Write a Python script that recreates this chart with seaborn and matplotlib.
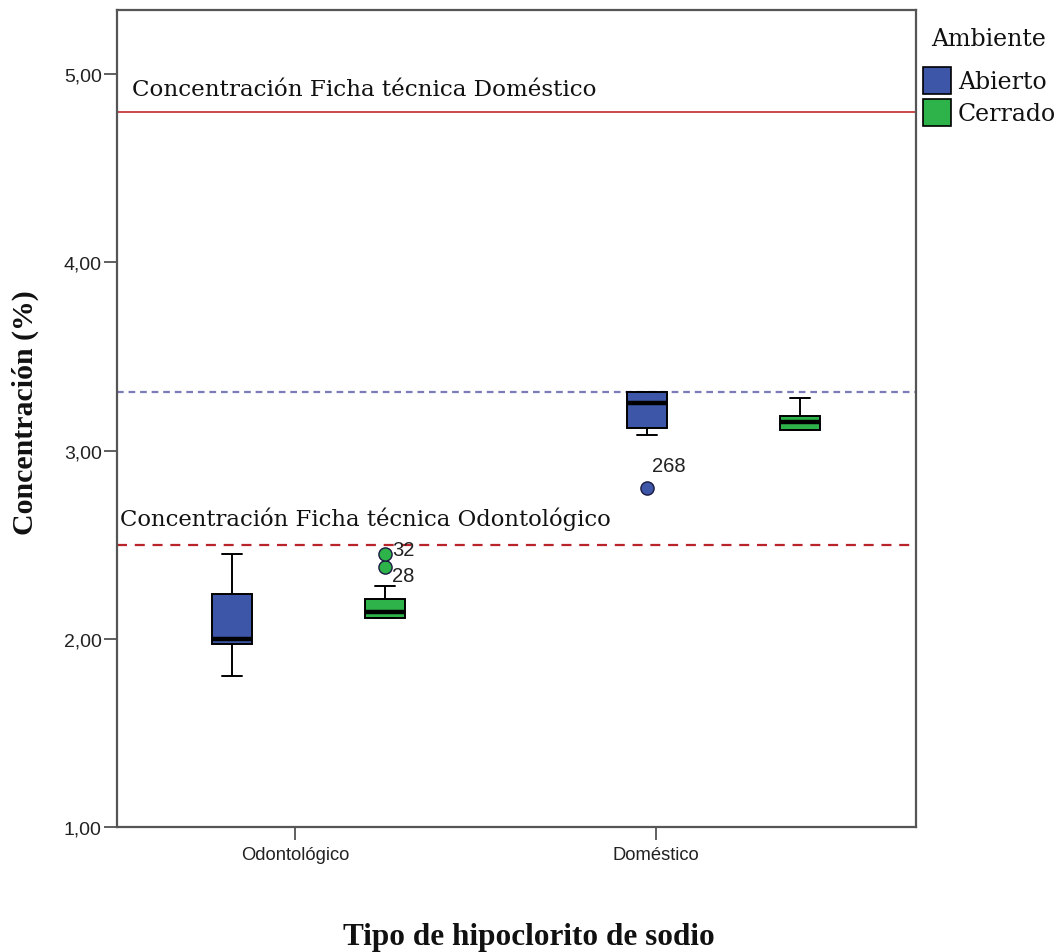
import matplotlib
matplotlib.use("Agg")
import matplotlib.pyplot as plt
import numpy as np
import pandas as pd
import seaborn as sns

# Categories
tipos = ["Odontológico", "Doméstico"]
ambientes = ["Abierto", "Cerrado"]

# Measured concentrations (%) per group
odontologico_abierto = [1.80, 1.97, 2.00, 2.24, 2.45]
odontologico_cerrado = [2.11, 2.11, 2.11, 2.11, 2.12, 2.13, 2.14, 2.16, 2.19,
                        2.21, 2.28, 2.38, 2.45]
domestico_abierto = [2.80, 3.08, 3.12, 3.20, 3.25, 3.28, 3.31, 3.31, 3.31]
domestico_cerrado = [3.11, 3.11, 3.11, 3.13, 3.15, 3.17, 3.185, 3.22, 3.28]

# Reference concentrations
ficha_domestico = 4.80
ficha_odontologico = 2.50
referencia_domestico = 3.31

# Case numbers of the atypical readings
casos_atipicos = {2.45: "32", 2.38: "28", 2.80: "268"}

# Axis ticks
y_ticks = [1.0, 2.0, 3.0, 4.0, 5.0]
y_tick_labels = ["1,00", "2,00", "3,00", "4,00", "5,00"]

# ---------------------------------------------------------------------------
grupos = {
    ("Odontológico", "Abierto"): odontologico_abierto,
    ("Odontológico", "Cerrado"): odontologico_cerrado,
    ("Doméstico", "Abierto"): domestico_abierto,
    ("Doméstico", "Cerrado"): domestico_cerrado,
}
rows = [(t, a, v) for (t, a), vals in grupos.items() for v in vals]
df = pd.DataFrame(rows, columns=["Tipo", "Ambiente", "Concentración"])

sns.set_style("ticks")
plt.rcParams["font.family"] = ["Liberation Sans", "DejaVu Sans"]

W, H = 1064, 953
fig = plt.figure(figsize=(W / 100, H / 100), dpi=100)
ax = fig.add_axes([117 / W, 1 - 828 / H, (916 - 117) / W, (828 - 11) / H])

palette = {"Abierto": "#3d56a8", "Cerrado": "#2eb34a"}
serif = ["DejaVu Serif"]
label_serif = ["Liberation Serif", "DejaVu Serif"]

sns.boxplot(
    data=df, x="Tipo", y="Concentración", hue="Ambiente",
    order=tipos, hue_order=ambientes, palette=palette,
    width=0.74, gap=0.74, saturation=1, linewidth=1.4, linecolor="black",
    medianprops=dict(linewidth=3.2, color="black"),
    flierprops=dict(marker="o", markersize=9.5, markeredgecolor="#1a1a40",
                    markeredgewidth=1.0),
    ax=ax,
)

# Fill each outlier with its group colour and tag it with the case number
label_offsets = {"32": (5, 3.6), "28": (5, -5.8), "268": (3.6, 16.5)}
for cont, amb in zip(ax.containers, ambientes):
    for fl in getattr(cont, "fliers", []):
        fl.set_markerfacecolor(palette[amb])
        fl.set_zorder(4)
        for xv, yv in zip(fl.get_xdata(), fl.get_ydata()):
            for val, caso in casos_atipicos.items():
                if np.isclose(yv, val):
                    dx, dy = label_offsets[caso]
                    ax.annotate(caso, (xv, yv), xytext=(dx, dy),
                                textcoords="offset points", ha="left",
                                va="center", fontsize=14.5, color="#222222")

# Reference lines
ax.axhline(ficha_domestico, color="#c8393d", lw=1.3, zorder=1)
ax.axhline(ficha_odontologico, color="#b8242a", lw=1.6, ls=(0, (4.5, 3.5)),
           zorder=1)
ax.axhline(referencia_domestico, color="#7b7bb8", lw=1.6, ls=(0, (3, 2.2)),
           zorder=1)

ax.annotate("Concentración Ficha técnica Doméstico",
            (0.019, ficha_domestico), xycoords=("axes fraction", "data"),
            xytext=(0, 16), textcoords="offset points", ha="left",
            va="center", fontsize=16.6, family=serif, color="#111111")
ax.annotate("Concentración Ficha técnica Odontológico",
            (0.004, ficha_odontologico), xycoords=("axes fraction", "data"),
            xytext=(0, 19), textcoords="offset points", ha="left",
            va="center", fontsize=16.4, family=serif, color="#111111")

# Axes
ax.set_xlim(-0.462, 1.464)
ax.set_ylim(1.0, 5.34)
ax.set_yticks(y_ticks)
ax.set_yticklabels(y_tick_labels)
ax.set_xticks([-0.033, 0.837])
ax.set_xticklabels(tipos)
ax.tick_params(axis="both", length=9.5, width=1.2, color="#444444",
               labelcolor="#222222", pad=1.5)
ax.tick_params(axis="y", labelsize=14)
ax.tick_params(axis="x", labelsize=13.2, pad=4)
for side in ["left", "right", "top", "bottom"]:
    ax.spines[side].set_visible(True)
    ax.spines[side].set_color("#555555")
    ax.spines[side].set_linewidth(1.6)

ax.set_xlabel("")
ax.set_ylabel("")
fig.text(25 / W, 1 - 413 / H, "Concentración (%)", rotation=90,
         ha="center", va="center", fontsize=21.5, fontweight="bold",
         family=label_serif, color="#111111")
fig.text(529 / W, 1 - 938 / H, "Tipo de hipoclorito de sodio",
         ha="center", va="center", fontsize=22.5, fontweight="bold",
         family=label_serif, color="#111111")

# Legend
handles, labels = ax.get_legend_handles_labels()
ax.get_legend().remove()
fig.text(989 / W, 1 - 40 / H, "Ambiente", ha="center", va="center",
         fontsize=17, family=serif, color="#111111")
leg = fig.legend(
    handles, labels, loc="upper left",
    bbox_to_anchor=(919 / W, 1 - 64 / H), bbox_transform=fig.transFigure,
    frameon=False, prop={"family": serif, "size": 17},
    handlelength=1.2, handleheight=1.4, handletextpad=0.3,
    labelspacing=0.2, borderpad=0.15, borderaxespad=0,
)
for t in leg.get_texts():
    t.set_color("#111111")
for p in leg.get_patches():
    p.set_edgecolor("black")
    p.set_linewidth(1.2)

fig.savefig("out.png", dpi=100)
